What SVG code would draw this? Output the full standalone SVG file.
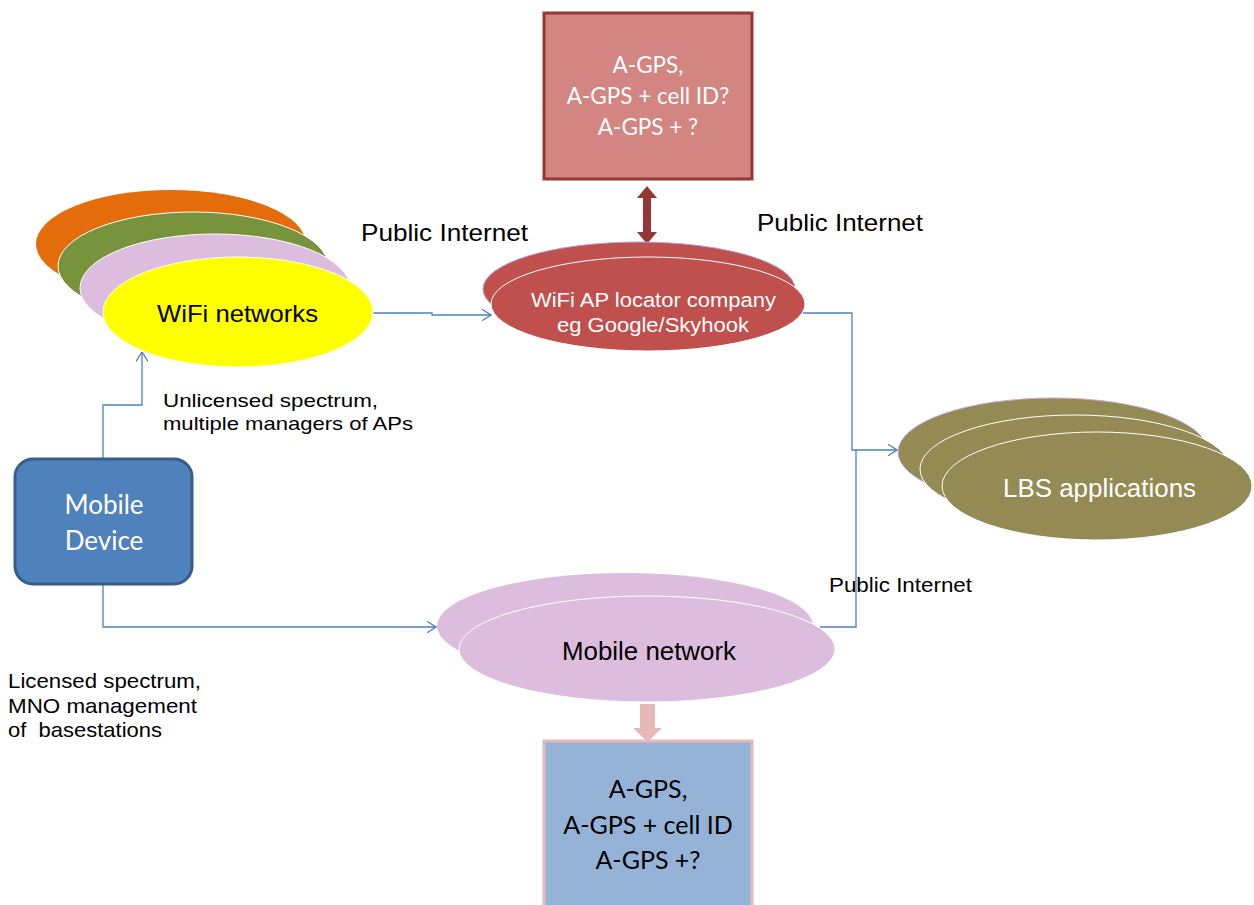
<svg xmlns="http://www.w3.org/2000/svg" width="1254" height="905" viewBox="0 0 1254 905">
<defs>
<marker id="open" viewBox="0 0 10 12" refX="9.5" refY="6" markerWidth="10" markerHeight="12" markerUnits="userSpaceOnUse" orient="auto">
<path d="M0,0 L9.5,6 L0,12" fill="none" stroke="#4F81BD" stroke-width="1.3"/>
</marker>
</defs>
<style>
.lbl{font-family:"Liberation Sans",Arial,sans-serif;fill:#000}
.cal{font-family:Lato,"Open Sans",sans-serif}
.conn{fill:none;stroke:#4F81BD;stroke-width:1.3}
</style>
<rect width="1254" height="905" fill="#fff"/>

<g id="connectors">
<path class="conn" d="M103,458 V405 H142 V352" marker-end="url(#open)"/>
<path class="conn" d="M103,585 V627 H436" marker-end="url(#open)"/>
<path class="conn" d="M373,313 H432 V315 H491" marker-end="url(#open)"/>
<path class="conn" d="M803,313 H852 V450 H897" marker-end="url(#open)"/>
<path class="conn" d="M820,627 H856 V450"/>
<path d="M647,186 L657,198 L651,198 L651,232 L657,232 L647,244 L637,232 L643,232 L643,198 L637,198 Z" fill="#953735"/>
<path d="M640,704 H655 V728 H662 L647.5,742 L633,728 H640 Z" fill="#E6B9B8"/>
</g>

<g id="wifi-networks">
<ellipse cx="171" cy="244" rx="135" ry="54" fill="#E46C0A"/>
<ellipse cx="193" cy="266" rx="135" ry="54" fill="#77933C" stroke="#fff" stroke-width="1"/>
<ellipse cx="215" cy="288" rx="135" ry="54" fill="#DDBDDE" stroke="#fff" stroke-width="1"/>
<ellipse cx="238" cy="312" rx="135" ry="55" fill="#FFFF00" stroke="#fff" stroke-width="1"/>
<text x="157" y="322" class="lbl" font-size="24" textLength="161" lengthAdjust="spacingAndGlyphs">WiFi networks</text>
</g>

<g id="wifi-ap-locator">
<ellipse cx="639" cy="289" rx="156" ry="47" fill="#C0504D" stroke="#B9A0D0" stroke-width="1"/>
<ellipse cx="648" cy="304" rx="157" ry="47" fill="#C0504D" stroke="#fff" stroke-width="1"/>
<text x="531" y="307" class="lbl" font-size="20" style="fill:#fff" textLength="245" lengthAdjust="spacingAndGlyphs">WiFi AP locator company</text>
<text x="557" y="332" class="lbl" font-size="20" style="fill:#fff" textLength="192" lengthAdjust="spacingAndGlyphs">eg Google/Skyhook</text>
</g>

<g id="top-box">
<rect x="544" y="13" width="208" height="166" fill="#D38582" stroke="#953735" stroke-width="3"/>
<text x="648" y="73" text-anchor="middle" class="cal" font-size="22.5" fill="#fff">A-GPS,</text>
<text x="648" y="104" text-anchor="middle" class="cal" font-size="22.5" fill="#fff">A-GPS + cell ID?</text>
<text x="648" y="135" text-anchor="middle" class="cal" font-size="22.5" fill="#fff">A-GPS + ?</text>
</g>

<g id="lbs-applications">
<ellipse cx="1053" cy="452" rx="155" ry="54" fill="#948A54" stroke="#C8A8D8" stroke-width="1"/>
<ellipse cx="1075" cy="469" rx="155" ry="54" fill="#948A54" stroke="#fff" stroke-width="1"/>
<ellipse cx="1097" cy="486" rx="155" ry="54" fill="#948A54" stroke="#fff" stroke-width="1"/>
<text x="1003" y="497" class="lbl" font-size="25" style="fill:#fff" textLength="193" lengthAdjust="spacingAndGlyphs">LBS applications</text>
</g>

<g id="mobile-network">
<ellipse cx="625" cy="626" rx="188" ry="53" fill="#DDBDDE"/>
<ellipse cx="647" cy="649" rx="188" ry="53" fill="#DDBDDE" stroke="#fff" stroke-width="1"/>
<text x="562" y="660" class="lbl" font-size="25" textLength="174" lengthAdjust="spacingAndGlyphs">Mobile network</text>
</g>

<g id="bottom-box">
<rect x="544" y="741" width="208" height="170" fill="#95B3D7" stroke="#E6B9B8" stroke-width="3"/>
<text x="648" y="798" text-anchor="middle" class="cal" font-size="25" fill="#000">A-GPS,</text>
<text x="648" y="834" text-anchor="middle" class="cal" font-size="25" fill="#000">A-GPS + cell ID</text>
<text x="648" y="869" text-anchor="middle" class="cal" font-size="25" fill="#000">A-GPS +?</text>
</g>

<g id="mobile-device">
<rect x="15" y="459" width="177" height="125" rx="18" fill="#4F81BD" stroke="#385D8A" stroke-width="3"/>
<text x="104" y="514" text-anchor="middle" class="cal" font-size="26" fill="#fff">Mobile</text>
<text x="104" y="550" text-anchor="middle" class="cal" font-size="26" fill="#fff">Device</text>
</g>

<g id="labels">
<text x="361" y="241" class="lbl" font-size="24" textLength="167" lengthAdjust="spacingAndGlyphs">Public Internet</text>
<text x="757" y="231" class="lbl" font-size="24" textLength="166" lengthAdjust="spacingAndGlyphs">Public Internet</text>
<text x="829" y="592" class="lbl" font-size="20" textLength="143" lengthAdjust="spacingAndGlyphs">Public Internet</text>
<text x="163" y="407" class="lbl" font-size="19" textLength="215" lengthAdjust="spacingAndGlyphs">Unlicensed spectrum,</text>
<text x="163" y="430" class="lbl" font-size="19" textLength="250" lengthAdjust="spacingAndGlyphs">multiple managers of APs</text>
<text x="8" y="688" class="lbl" font-size="21" textLength="193" lengthAdjust="spacingAndGlyphs">Licensed spectrum,</text>
<text x="8" y="713" class="lbl" font-size="21" textLength="189" lengthAdjust="spacingAndGlyphs">MNO management</text>
<text x="8" y="737" class="lbl" font-size="21" textLength="154" lengthAdjust="spacingAndGlyphs" style="white-space:pre">of  basestations</text>
</g>
</svg>
